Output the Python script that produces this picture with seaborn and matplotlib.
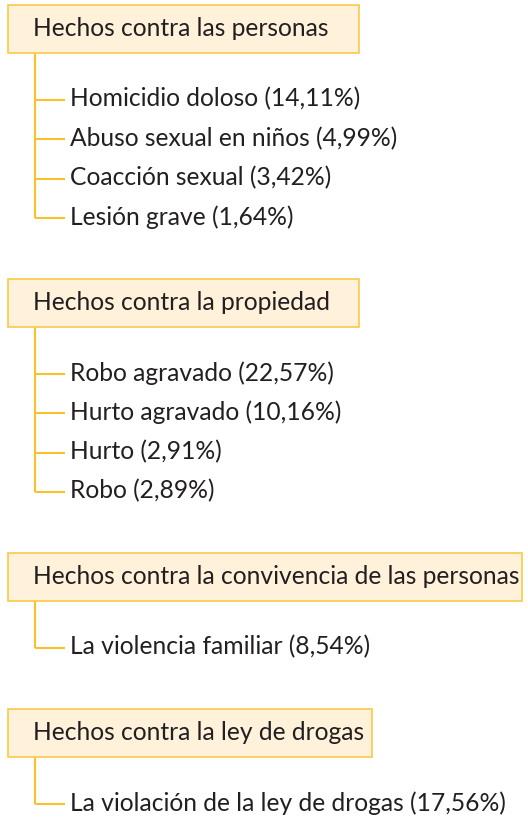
import seaborn as sns
import matplotlib.pyplot as plt
from matplotlib import font_manager
from matplotlib.patches import Rectangle

# data
categories = [
    "Hechos contra las personas",
    "Hechos contra la propiedad",
    "Hechos contra la convivencia de las personas",
    "Hechos contra la ley de drogas",
]
items = [
    ["Homicidio doloso", "Abuso sexual en niños", "Coacción sexual", "Lesión grave"],
    ["Robo agravado", "Hurto agravado", "Hurto", "Robo"],
    ["La violencia familiar"],
    ["La violación de la ley de drogas"],
]
shares = [
    [14.11, 4.99, 3.42, 1.64],
    [22.57, 10.16, 2.91, 2.89],
    [8.54],
    [17.56],
]

# style
sns.set_theme(style="white")
installed = {f.name for f in font_manager.fontManager.ttflist}
FONT = "Liberation Sans Narrow" if "Liberation Sans Narrow" in installed else "Lato"
plt.rcParams["font.family"] = [FONT, "DejaVu Sans"]
line_col = "#FBC02D"
edge_col = "#F9C94A"
fill_col = "#FFF1DA"
text_col = "#231F20"

W, H = 528, 819
fig = plt.figure(figsize=(W / 100, H / 100), dpi=100)
ax = fig.add_axes([0, 0, 1, 1])
ax.set_xlim(0, W)
ax.set_ylim(H, 0)
ax.axis("off")

# fit font size so the longest heading spans like the reference
renderer = fig.canvas.get_renderer()
probe = ax.text(0, 0, categories[2], fontsize=20)
fs = 20 * 487 / probe.get_window_extent(renderer).width
probe.remove()

box_x, box_h, min_w = 8, 48, 351
text_x, trunk_x, branch_x, item_x = 33, 35, 65, 70
first_off, row_h, gap = 47, 39.3, 61

y = 5
for cat, names, vals in zip(categories, items, shares):
    t = ax.text(text_x, y + box_h / 2, cat, fontsize=fs, color=text_col,
                va="center", ha="left", zorder=3)
    tw = t.get_window_extent(renderer).width
    bw = min(max(min_w, text_x - box_x + tw + 8), W - 2 * box_x + 2)
    ax.add_patch(Rectangle((box_x, y), bw, box_h, facecolor=fill_col,
                           edgecolor=edge_col, lw=1.2, zorder=2))
    bottom = y + box_h
    ys = [bottom + first_off + i * row_h for i in range(len(names))]
    ax.plot([trunk_x, trunk_x], [bottom, ys[-1]], color=line_col, lw=1.5,
            solid_capstyle="butt", zorder=1)
    for yy, name, v in zip(ys, names, vals):
        ax.plot([trunk_x, branch_x], [yy, yy], color=line_col, lw=1.5,
                solid_capstyle="butt", zorder=1)
        label = f"{name} ({v:.2f}%)".replace(".", ",")
        ax.text(item_x, yy - 1, label, fontsize=fs, color=text_col,
                va="center", ha="left", zorder=3)
    y = ys[-1] + gap

fig.savefig("out.png", dpi=100, facecolor="white")
